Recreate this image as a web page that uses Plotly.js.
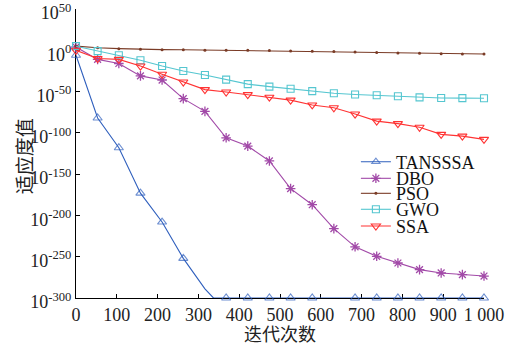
<!DOCTYPE html>
<html>
<head>
<meta charset="utf-8">
<script src="https://cdn.plot.ly/plotly-3.0.1.min.js"></script>
<style>
html,body{margin:0;padding:0;background:#ffffff;}
#chart{width:518px;height:346px;}
</style>
</head>
<body>
<div id="chart"></div>
<script>
// iteration numbers at which markers are drawn
const iterations = [0, 53, 105, 158, 211, 263, 316, 368, 421, 474, 526, 579, 632, 684, 737, 789, 842, 895, 947, 1000];

// TANSSSA (line points; flag 1 = marker shown)
const tanssaIter = [0, 53, 105, 158, 211, 263, 316, 337, 368, 421, 474, 526, 579, 684, 737, 789, 842, 895, 947, 1000];
const tanssaExp  = [-6, -82, -118, -173, -208, -252, -289, -300, -300, -300, -300, -300, -300, -300, -300, -300, -300, -300, -300, -300];
const tanssaMark = [1, 1, 1, 1, 1, 1, 0, 0, 1, 1, 1, 1, 1, 1, 1, 1, 1, 1, 1, 1];

// log10 of fitness values
const dboExp = [4, -11, -16, -31, -36, -58.5, -74, -106, -116, -134, -167.5, -187, -216, -238, -249.5, -257.6, -265.6, -269.7, -271.7, -273.4];
const psoExp = [5, 3, 2, 1.2, 0.8, 0.6, 0.2, 0.2, 0, -0.2, -0.8, -1.2, -1.4, -2, -2.6, -3.2, -3.6, -4.2, -4.4, -4.4];
const gwoExp = [5, -1, -6, -12, -19, -25, -30, -35.5, -41, -44, -46.5, -49.5, -52, -53.5, -54.5, -55.7, -57, -57.7, -57.9, -58];
const ssaExp = [0, -10, -11, -19, -29, -38.4, -47.6, -50.5, -53.7, -56.8, -60.3, -66.2, -69.6, -77.2, -85.8, -88.8, -93.2, -101.8, -103.9, -107.9];

const seriesNames = ['TANSSSA', 'DBO', 'PSO', 'GWO', 'SSA'];
const seriesColors = ['#2f5fbd', '#a24aa8', '#7a3b26', '#55c6d0', '#ff3333'];

const xTickVals = [0, 100, 200, 300, 400, 500, 600, 700, 800, 900, 1000];
const xTickText = ['0', '100', '200', '300', '400', '500', '600', '700', '800', '900', '1 000'];
const yTickExp = [50, 0, -50, -100, -150, -200, -250, -300];
const xTitle = '迭代次数';
const yTitle = '适应度值';

const pow10 = a => a.map(e => Math.pow(10, e));
const serif = 'Liberation Serif, Times New Roman, serif';

const traces = [
  {
    name: seriesNames[0], x: tanssaIter, y: pow10(tanssaExp), mode: 'lines+markers',
    line: {color: seriesColors[0], width: 1.1},
    marker: {symbol: 'triangle-up-open', size: tanssaMark.map(f => f ? 8 : 0), color: seriesColors[0], line: {width: 1.1, color: seriesColors[0]}},
    cliponaxis: false, legend: 'legend'
  },
  {
    name: seriesNames[1], x: iterations, y: pow10(dboExp), mode: 'lines+markers',
    line: {color: seriesColors[1], width: 1.1},
    marker: {symbol: 'asterisk-open', size: 8, color: seriesColors[1], line: {width: 1.3, color: seriesColors[1]}},
    cliponaxis: false, legend: 'legend2'
  },
  {
    name: seriesNames[2], x: iterations, y: pow10(psoExp), mode: 'lines+markers',
    line: {color: seriesColors[2], width: 1.1},
    marker: {symbol: 'circle', size: 3, color: seriesColors[2]},
    cliponaxis: false, legend: 'legend3'
  },
  {
    name: seriesNames[3], x: iterations, y: pow10(gwoExp), mode: 'lines+markers',
    line: {color: seriesColors[3], width: 1.1},
    marker: {symbol: 'square-open', size: 7, color: seriesColors[3], line: {width: 1.1, color: seriesColors[3]}},
    cliponaxis: false, legend: 'legend4'
  },
  {
    name: seriesNames[4], x: iterations, y: pow10(ssaExp), mode: 'lines+markers',
    line: {color: seriesColors[4], width: 1.1},
    marker: {symbol: 'triangle-down-open', size: 8, color: seriesColors[4], line: {width: 1.1, color: seriesColors[4]}},
    cliponaxis: false, legend: 'legend5'
  }
];

const legendY = [0.4706, 0.4131, 0.3612, 0.3059, 0.2481];
function mkLegend(y) {
  return {x: 0.686, y: y, xanchor: 'left', yanchor: 'middle', bgcolor: 'rgba(0,0,0,0)', borderwidth: 0,
          font: {family: serif, size: 18, color: '#111'}, itemwidth: 30};
}

const layout = {
  width: 518, height: 346,
  margin: {l: 76, r: 34, t: 9, b: 48},
  paper_bgcolor: '#ffffff', plot_bgcolor: '#ffffff',
  showlegend: true,
  legend: mkLegend(legendY[0]),
  legend2: mkLegend(legendY[1]),
  legend3: mkLegend(legendY[2]),
  legend4: mkLegend(legendY[3]),
  legend5: mkLegend(legendY[4]),
  xaxis: {
    range: [0, 1000], tickmode: 'array', tickvals: xTickVals, ticktext: xTickText,
    ticks: 'inside', ticklen: 4, tickcolor: '#000', tickwidth: 1,
    showline: true, linecolor: '#000', linewidth: 1, mirror: false,
    showgrid: false, zeroline: false, layer: 'below traces',
    tickfont: {family: serif, size: 18, color: '#222'},
    title: {text: xTitle, font: {family: 'Noto Sans CJK SC', size: 18, color: '#222'}, standoff: 5}
  },
  yaxis: {
    type: 'log', range: [-300, 50.02], tickmode: 'array',
    tickvals: pow10(yTickExp), ticktext: yTickExp.map(e => '10<sup>' + e + '</sup>'),
    ticks: 'inside', ticklen: 4, tickcolor: '#000', tickwidth: 1,
    showline: true, linecolor: '#000', linewidth: 1, mirror: false,
    showgrid: false, zeroline: false, layer: 'below traces',
    ticklabeloverflow: 'allow', ticklabelshift: 4,
    tickfont: {family: serif, size: 18, color: '#222'}
  },
  annotations: [{
    text: yTitle, textangle: -90, xref: 'paper', yref: 'paper',
    x: -0.128, y: 0.49, xanchor: 'center', yanchor: 'middle', showarrow: false,
    font: {family: 'Noto Sans CJK SC', size: 19, color: '#222'}
  }]
};

Plotly.newPlot('chart', traces, layout, {staticPlot: true, displayModeBar: false});
</script>
</body>
</html>
